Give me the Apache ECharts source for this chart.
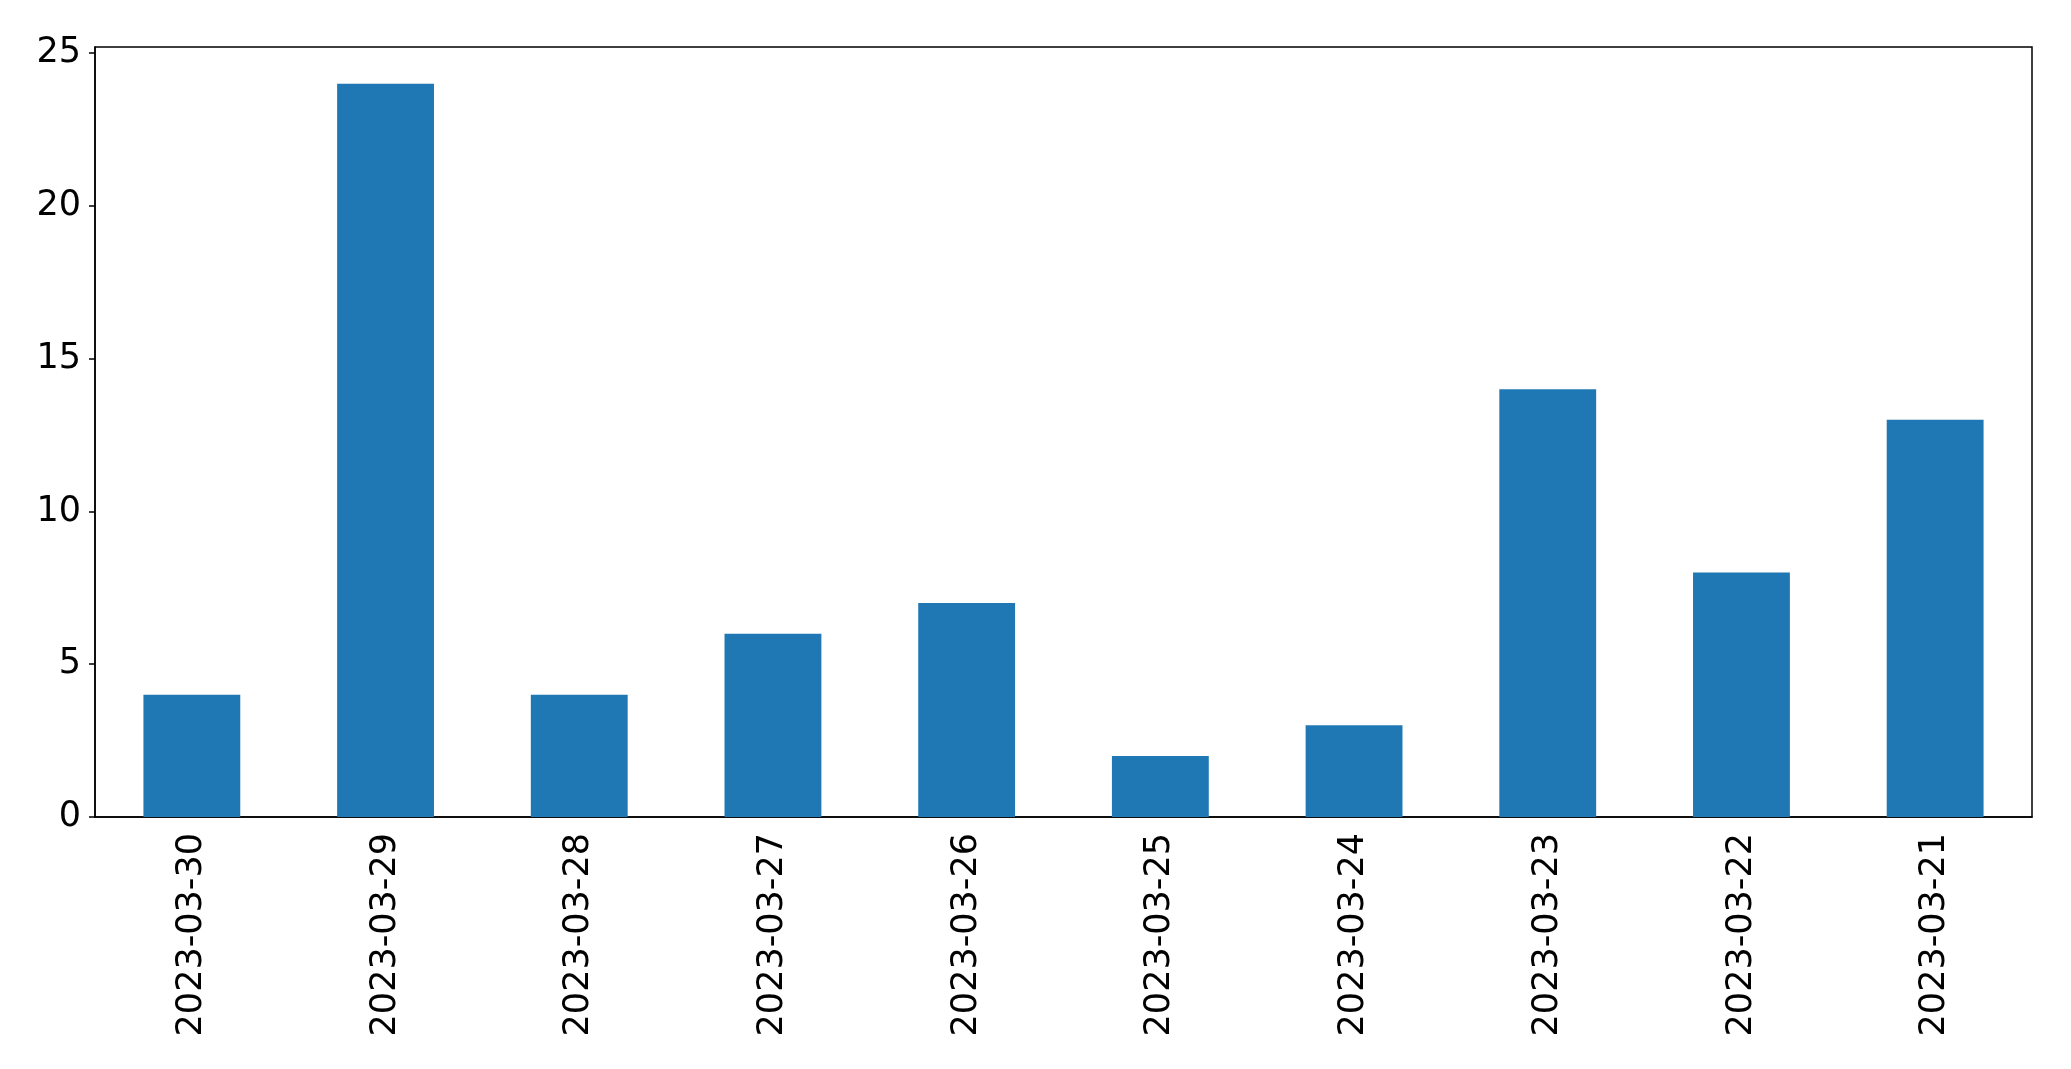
<!DOCTYPE html>
<html>
<head>
<meta charset="utf-8">
<script src="https://cdn.jsdelivr.net/npm/echarts@6/dist/echarts.min.js"></script>
<style>
  html, body { margin: 0; padding: 0; background: #fff; }
  #chart { width: 2071px; height: 1069px; }
</style>
</head>
<body>
<div id="chart"></div>
<script>
// dates as they appear on the x axis (newest first)
const dates = ['2023-03-30', '2023-03-29', '2023-03-28', '2023-03-27', '2023-03-26',
  '2023-03-25', '2023-03-24', '2023-03-23', '2023-03-22', '2023-03-21']
const counts = [4, 24, 4, 6, 7, 2, 3, 14, 8, 13]
const yTicks = [0, 5, 10, 15, 20, 25]

const font = 'DejaVu Sans'
const chart = echarts.init(document.getElementById('chart'))
chart.setOption({
  animation: false,
  grid: {
    left: 95,
    right: 39,
    top: 47,
    bottom: 252,
    show: true,
    borderColor: '#000',
    borderWidth: 1.5,
    containLabel: false
  },
  xAxis: {
    type: 'category',
    data: dates,
    boundaryGap: true,
    axisLine: { lineStyle: { color: '#000', width: 1.5 } },
    axisTick: { alignWithLabel: true, length: 6, lineStyle: { color: '#000', width: 1.5 } },
    axisLabel: {
      rotate: 90,
      margin: 16,
      color: '#000',
      fontFamily: font,
      fontSize: 35
    }
  },
  yAxis: {
    type: 'value',
    min: 0,
    max: 25.2,
    splitLine: { show: false },
    axisLine: { show: true, lineStyle: { color: '#000', width: 1.5 } },
    axisTick: { show: true, length: 6, customValues: yTicks, lineStyle: { color: '#000', width: 1.5 } },
    axisLabel: {
      customValues: yTicks,
      margin: 14,
      color: '#000',
      fontFamily: font,
      fontSize: 35
    }
  },
  series: [{
    type: 'bar',
    data: counts,
    barWidth: '50%',
    itemStyle: { color: '#1f77b4' }
  }]
})
</script>
</body>
</html>
